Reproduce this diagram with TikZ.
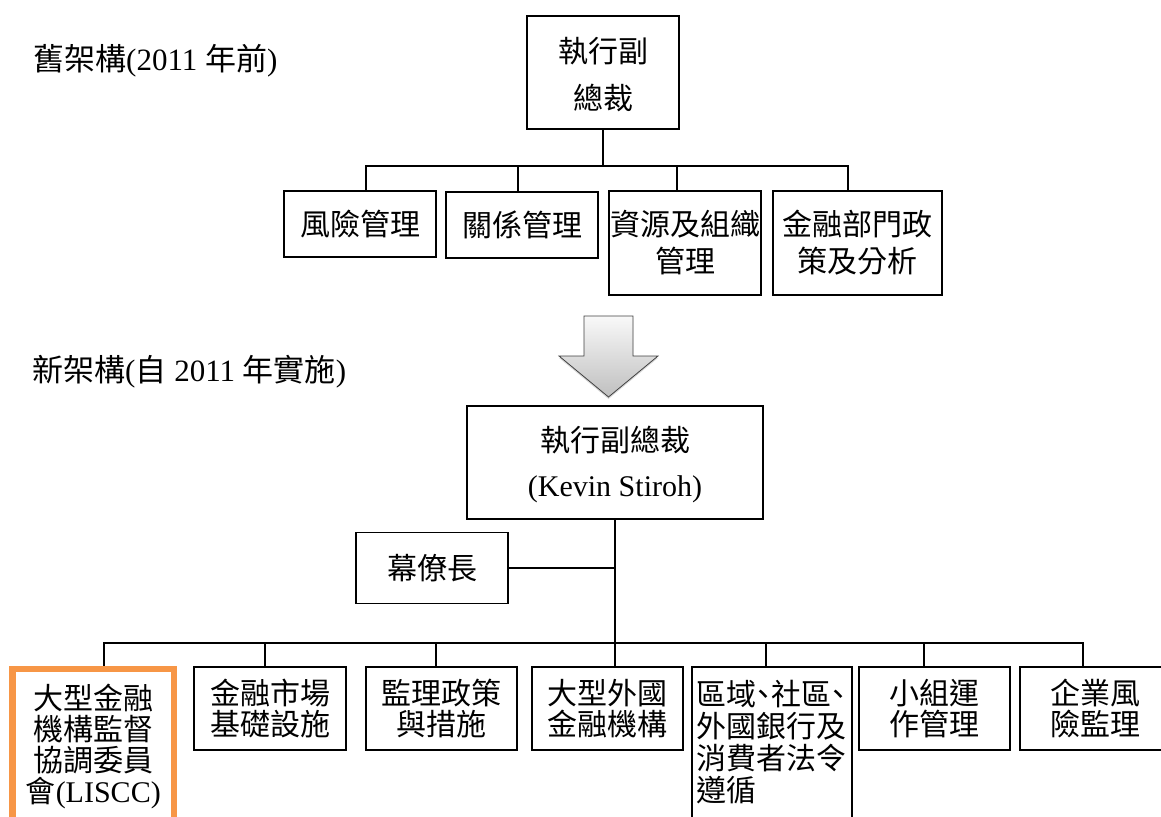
\documentclass[tikz,border=0pt]{standalone}
\usepackage{fontspec}
\setmainfont{Liberation Serif}
\newfontfamily\cjk{Noto Sans CJK TC}
\newcommand\latn[1]{{\rmfamily #1}}
\usetikzlibrary{shadows}
\definecolor{lisccorange}{HTML}{F79646}
\tikzset{
  box/.style={draw=black, line width=1.6pt, align=center, inner sep=0pt,
              font=\cjk\fontsize{30}{#1}\selectfont},
  box/.default=31,
  conn/.style={line width=1.6pt},
  title/.style={anchor=west, inner sep=0pt, font=\cjk\fontsize{31}{36}\selectfont},
}
\begin{document}
\begin{tikzpicture}[x=1pt,y=-1pt]
\useasboundingbox (0,0) rectangle (1161,816);
\clip (0,0) rectangle (1161,816);

% titles
\node[title] (t1) at (33,61) {舊架構\latn{(2011 }年前\latn{)}};
\node[title] (t2) at (32,372) {新架構\latn{(}自\latn{ 2011 }年實施\latn{)}};

% old structure
\node[box=47, minimum width=152pt, minimum height=113pt] (op) at (603,72.5) {\rule{0pt}{30pt}執行副\\總裁};
\node[box, minimum width=152pt, minimum height=66pt] (r1) at (360,224) {風險管理};
\node[box, minimum width=152pt, minimum height=66pt] (r2) at (522,225) {關係管理};
\node[box=37, minimum width=152pt, minimum height=104pt] (r3) at (685,243) {資源及組織\\管理};
\node[box=37, minimum width=169pt, minimum height=104pt] (r4) at (857.5,243) {金融部門政\\策及分析};
\coordinate (ob) at (603,166);
\draw[conn] (op.south) -- (ob);
\draw[conn] (ob) -| ([xshift=6pt]r1.north);
\draw[conn] (ob) -| ([xshift=-4pt]r2.north);
\draw[conn] (ob) -| ([xshift=-8pt]r3.north);
\draw[conn] (ob) -| ([xshift=-9.5pt]r4.north);

% transition arrow
\path[draw=black!75, line width=0.8pt, top color=gray!5, bottom color=gray!50,
      drop shadow={opacity=0.3, shadow xshift=0pt, shadow yshift=-2pt}]
  (584,316) -- (633,316) -- (633,356) -- (658,356) -- (608.5,397)
  -- (559,356) -- (584,356) -- cycle;

% new structure
\node[box=45, minimum width=296pt, minimum height=113pt] (np) at (615,462.5) {\rule{0pt}{30pt}執行副總裁\\\latn{(Kevin Stiroh)}};
\node[box, minimum width=152pt, minimum height=71pt] (cos) at (432,568) {幕僚長};
\coordinate (nb) at (615,643);
\draw[conn] (np.south) -- (nb);
\draw[conn] (cos.east) -- (cos.east -| np.south);

\node[box, draw=lisccorange, line width=6.5pt, minimum width=161.5pt, minimum height=155pt] (b1) at (93.25,746.5)
  {大型金融\\機構監督\\協調委員\\會\latn{(LISCC)}};
\node[box, minimum width=152pt, minimum height=83pt] (b2) at (270,708.5) {金融市場\\基礎設施};
\node[box, minimum width=151pt, minimum height=83pt] (b3) at (441.5,708.5) {監理政策\\與措施};
\node[box, minimum width=151pt, minimum height=83pt] (b4) at (607.5,708.5) {大型外國\\金融機構};
\node[box=32, minimum width=160pt, minimum height=151pt, align=left, text width=152pt] (b5) at (772,742.5)
  {區域\kern-.25em、\kern-.25em 社區\kern-.25em、\\外國銀行及\\消費者法令\\遵循};
\node[box, minimum width=151pt, minimum height=83pt] (b6) at (934.5,708.5) {小組運\\作管理};
\node[box, minimum width=151pt, minimum height=83pt] (b7) at (1095.5,708.5) {企業風\\險監理};

\draw[conn] (nb) -| ([xshift=10.75pt]b1.north);
\draw[conn] (nb) -| ([xshift=-5pt]b2.north);
\draw[conn] (nb) -| ([xshift=-5.5pt]b3.north);
\draw[conn] (nb) -- (nb |- b4.north);
\draw[conn] (nb) -| ([xshift=-6pt]b5.north);
\draw[conn] (nb) -| ([xshift=-10.5pt]b6.north);
\draw[conn] (nb) -| ([xshift=-12.5pt]b7.north);
\end{tikzpicture}
\end{document}
